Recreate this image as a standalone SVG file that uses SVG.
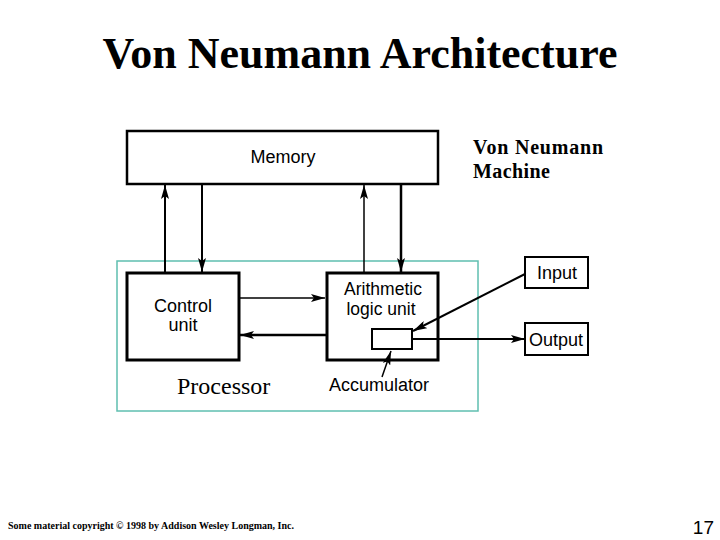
<svg xmlns="http://www.w3.org/2000/svg" width="720" height="540" viewBox="0 0 720 540">
<style>
.box{fill:#fff;stroke:#000}
.sans{font-family:"Liberation Sans",Arial,sans-serif;fill:#000}
.serif{font-family:"Liberation Serif","Times New Roman",serif;fill:#000}
.ln{fill:none;stroke:#000}
</style>
<defs>
<marker id="ah" viewBox="0 0 14 8" markerWidth="14" markerHeight="8" markerUnits="userSpaceOnUse" refX="14" refY="4" orient="auto">
<path d="M0,0 L14,4 L0,8 L3,4 z" fill="#000"/>
</marker>
</defs>
<rect width="720" height="540" fill="#fff"/>
<text class="serif" x="360" y="68" font-size="44" font-weight="bold" text-anchor="middle">Von Neumann Architecture</text>

<g id="processor">
<rect x="117" y="261" width="361" height="150" fill="none" stroke="#5fbfb0" stroke-width="1.5"/>
<text class="serif" x="177" y="394" font-size="24">Processor</text>
</g>

<g id="memory">
<rect class="box" x="127" y="131" width="311" height="53" stroke-width="2.5"/>
<text class="sans" x="283" y="163" font-size="18" text-anchor="middle">Memory</text>
</g>

<g id="machine-label">
<text class="serif" x="473" y="154" font-size="20" font-weight="bold" letter-spacing="0.8">Von Neumann</text>
<text class="serif" x="473" y="178" font-size="20" font-weight="bold" letter-spacing="0.4">Machine</text>
</g>

<g id="control">
<rect class="box" x="127" y="273" width="112" height="87" stroke-width="3"/>
<text class="sans" x="183" y="312" font-size="18" text-anchor="middle">Control</text>
<text class="sans" x="183" y="331" font-size="18" text-anchor="middle">unit</text>
</g>

<g id="alu">
<rect class="box" x="327" y="273" width="111" height="87" stroke-width="3"/>
<text class="sans" x="383" y="295" font-size="17.5" text-anchor="middle">Arithmetic</text>
<text class="sans" x="381" y="315" font-size="17.5" text-anchor="middle">logic unit</text>
</g>

<g id="accumulator">
<rect class="box" x="372" y="329" width="40" height="20" stroke-width="2"/>
<text class="sans" x="379" y="391" font-size="18" text-anchor="middle">Accumulator</text>
</g>

<g id="input">
<rect class="box" x="525" y="257" width="63" height="31" stroke-width="2"/>
<text class="sans" x="557" y="279" font-size="18" text-anchor="middle">Input</text>
</g>

<g id="output">
<rect class="box" x="525" y="323" width="63" height="32" stroke-width="2"/>
<text class="sans" x="556" y="346" font-size="18" text-anchor="middle">Output</text>
</g>

<g id="connectors">
<line class="ln" x1="165" y1="273" x2="165" y2="185" stroke-width="2" marker-end="url(#ah)"/>
<line class="ln" x1="202" y1="185" x2="202" y2="272" stroke-width="2" marker-end="url(#ah)"/>
<line class="ln" x1="364" y1="273" x2="364" y2="185" stroke-width="1.5" marker-end="url(#ah)"/>
<line class="ln" x1="401" y1="185" x2="401" y2="272" stroke-width="2.5" marker-end="url(#ah)"/>
<line class="ln" x1="239" y1="298" x2="325" y2="298" stroke-width="1.5" marker-end="url(#ah)"/>
<line class="ln" x1="327" y1="335" x2="240" y2="335" stroke-width="2.5" marker-end="url(#ah)"/>
<line class="ln" x1="525" y1="274" x2="413" y2="331" stroke-width="2" marker-end="url(#ah)"/>
<line class="ln" x1="412" y1="339" x2="525" y2="339" stroke-width="2" marker-end="url(#ah)"/>
<line class="ln" x1="382" y1="377" x2="391" y2="351" stroke-width="1.5" marker-end="url(#ah)"/>
</g>

<text class="serif" x="8" y="529" font-size="11" font-weight="bold" textLength="286" lengthAdjust="spacingAndGlyphs">Some material copyright © 1998 by Addison Wesley Longman, Inc.</text>
<text class="sans" x="714" y="534" font-size="19" text-anchor="end">17</text>
</svg>
